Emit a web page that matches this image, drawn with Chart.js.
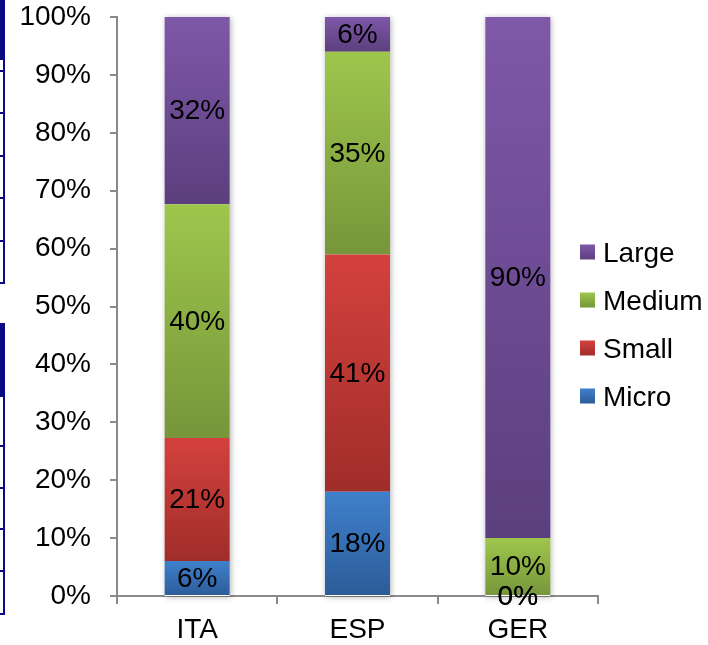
<!DOCTYPE html>
<html>
<head>
<meta charset="utf-8">
<title>Enterprise size distribution</title>
<script src="https://cdn.jsdelivr.net/npm/chart.js@4/dist/chart.umd.min.js"></script>
<style>
  html, body { margin: 0; padding: 0; background: #ffffff; }
  #wrap { position: relative; width: 708px; height: 645px; overflow: hidden; }
  #c { position: absolute; left: 0; top: 0; }
  .frame { position: absolute; background: #0a0a84; }
</style>
</head>
<body>
<div id="wrap">
  <canvas id="c" width="708" height="645"></canvas>
  <!-- navy bracket strips along the left edge -->
  <div class="frame" style="left:0;top:0;width:5px;height:60px"></div>
  <div class="frame" style="left:3px;top:60px;width:2px;height:224px"></div>
  <div class="frame" style="left:0;top:70px;width:5px;height:2px"></div>
  <div class="frame" style="left:0;top:112px;width:5px;height:2px"></div>
  <div class="frame" style="left:0;top:155px;width:5px;height:2px"></div>
  <div class="frame" style="left:0;top:197px;width:5px;height:2px"></div>
  <div class="frame" style="left:0;top:240px;width:5px;height:2px"></div>
  <div class="frame" style="left:0;top:282px;width:5px;height:2px"></div>
  <div class="frame" style="left:0;top:323px;width:5px;height:74px"></div>
  <div class="frame" style="left:3px;top:397px;width:2px;height:218px"></div>
  <div class="frame" style="left:0;top:445px;width:5px;height:2px"></div>
  <div class="frame" style="left:0;top:487px;width:5px;height:2px"></div>
  <div class="frame" style="left:0;top:528px;width:5px;height:2px"></div>
  <div class="frame" style="left:0;top:570px;width:5px;height:2px"></div>
  <div class="frame" style="left:0;top:613px;width:5px;height:2px"></div>
</div>
<script>
// Share of enterprises by size class (percent, as labelled)
const categories = ['ITA', 'ESP', 'GER'];
const seriesNames = ['Micro', 'Small', 'Medium', 'Large'];
const micro  = [6, 18, 0];
const small  = [21, 41, 0];
const medium = [40, 35, 10];
const large  = [32, 6, 90];
const yTickValues = [0, 10, 20, 30, 40, 50, 60, 70, 80, 90, 100];

const FONT = '"Liberation Sans", Arial, sans-serif';
const rawSeries = [micro, small, medium, large];

// light (top) and dark (bottom) shades of each series
const shades = {
  Micro:  ['#3f80cc', '#2c5c98'],
  Small:  ['#d4413d', '#a02d2a'],
  Medium: ['#9ec64c', '#76963a'],
  Large:  ['#7f58a9', '#5c3f7e']
};

// 100% stacking: each column is scaled to its own total
const totals = categories.map((_, i) => rawSeries.reduce((s, arr) => s + arr[i], 0));
const toShare = arr => arr.map((v, i) => v / totals[i] * 100);

function gradientFill(di) {
  const [light, dark] = shades[seriesNames[di]];
  return (ctx) => {
    const chart = ctx.chart;
    if (ctx.type !== 'data' || !chart.chartArea || !chart.scales.y) return dark;
    const y = chart.scales.y;
    const i = ctx.dataIndex;
    let start = 0;
    for (let k = 0; k < di; k++) start += chart.data.datasets[k].data[i];
    const end = start + chart.data.datasets[di].data[i];
    const top = y.getPixelForValue(end);
    const bottom = y.getPixelForValue(start);
    if (!(bottom - top > 0)) return dark;
    const g = chart.ctx.createLinearGradient(0, top, 0, bottom);
    g.addColorStop(0, light);
    g.addColorStop(1, dark);
    return g;
  };
}

// soft drop shadow behind each whole column
const columnShadow = {
  id: 'columnShadow',
  beforeDatasetsDraw(chart) {
    const { ctx, scales: { y } } = chart;
    const top = y.getPixelForValue(100);
    const bottom = y.getPixelForValue(0);
    ctx.save();
    ctx.shadowColor = 'rgba(0,0,0,0.30)';
    ctx.shadowBlur = 6;
    ctx.shadowOffsetX = 1;
    ctx.shadowOffsetY = 1;
    ctx.fillStyle = '#ffffff';
    chart.getDatasetMeta(0).data.forEach(bar => {
      ctx.fillRect(bar.x - bar.width / 2, top, bar.width, bottom - top);
    });
    ctx.restore();
  }
};

// percentage written in the middle of every segment
const segmentLabels = {
  id: 'segmentLabels',
  afterDatasetsDraw(chart) {
    const ctx = chart.ctx;
    ctx.save();
    ctx.font = '28px ' + FONT;
    ctx.fillStyle = '#000000';
    ctx.textAlign = 'center';
    ctx.textBaseline = 'middle';
    chart.data.datasets.forEach((ds, di) => {
      chart.getDatasetMeta(di).data.forEach((bar, i) => {
        const c = bar.getCenterPoint();
        ctx.fillText(ds.labelValues[i] + '%', c.x, c.y + 1);
      });
    });
    ctx.restore();
  }
};

// legend on the right, largest class first
const sideLegend = {
  id: 'sideLegend',
  afterDraw(chart) {
    const { ctx, chartArea } = chart;
    const boxX = chartArea.right - 18;
    const textX = boxX + 23;
    const rowGap = 48;
    const midY = (chartArea.top + chartArea.bottom) / 2 + 19;
    const order = chart.data.datasets.map((ds, di) => di).reverse();
    ctx.save();
    ctx.font = '28px ' + FONT;
    ctx.textAlign = 'left';
    ctx.textBaseline = 'middle';
    order.forEach((di, row) => {
      const ds = chart.data.datasets[di];
      const cy = midY + (row - (order.length - 1) / 2) * rowGap;
      const [light, dark] = shades[ds.label];
      const g = ctx.createLinearGradient(0, cy - 9, 0, cy + 6);
      g.addColorStop(0, light);
      g.addColorStop(1, dark);
      ctx.fillStyle = g;
      ctx.fillRect(boxX, cy - 9, 15, 15);
      ctx.fillStyle = '#000000';
      ctx.fillText(ds.label, textX, cy + 1);
    });
    ctx.restore();
  }
};

const axisGrey = '#8a8a8a';

new Chart(document.getElementById('c'), {
  type: 'bar',
  data: {
    labels: categories,
    datasets: rawSeries.map((arr, di) => ({
      label: seriesNames[di],
      data: toShare(arr),
      labelValues: arr,
      backgroundColor: gradientFill(di),
      borderWidth: 0,
      barPercentage: 0.406,
      categoryPercentage: 1.0
    }))
  },
  options: {
    responsive: false,
    animation: false,
    events: [],
    layout: { padding: { left: 0, right: 110, top: 0, bottom: 0 } },
    plugins: {
      legend: { display: false },
      tooltip: { enabled: false }
    },
    scales: {
      x: {
        stacked: true,
        grid: { display: true, drawOnChartArea: false, drawTicks: true, tickLength: 8, color: axisGrey, lineWidth: 2, offset: true },
        border: { display: true, color: axisGrey, width: 2 },
        ticks: { color: '#000000', font: { family: FONT, size: 28 }, padding: 9, maxRotation: 0 },
        afterFit(scale) { scale.height = 49; }
      },
      y: {
        stacked: true,
        min: 0,
        max: 100,
        afterBuildTicks(scale) { scale.ticks = yTickValues.map(v => ({ value: v })); },
        grid: { display: true, drawOnChartArea: false, drawTicks: true, tickLength: 7, color: axisGrey, lineWidth: 2 },
        border: { display: true, color: axisGrey, width: 2 },
        ticks: { color: '#000000', font: { family: FONT, size: 28 }, padding: 19, callback: v => v + '%' },
        afterFit(scale) {
          scale.width = 117;
          // keep only half a label of room above the top tick
          scale.paddingTop = 17;
          scale.paddingBottom = 17;
        }
      }
    }
  },
  plugins: [columnShadow, segmentLabels, sideLegend]
});
</script>
</body>
</html>
